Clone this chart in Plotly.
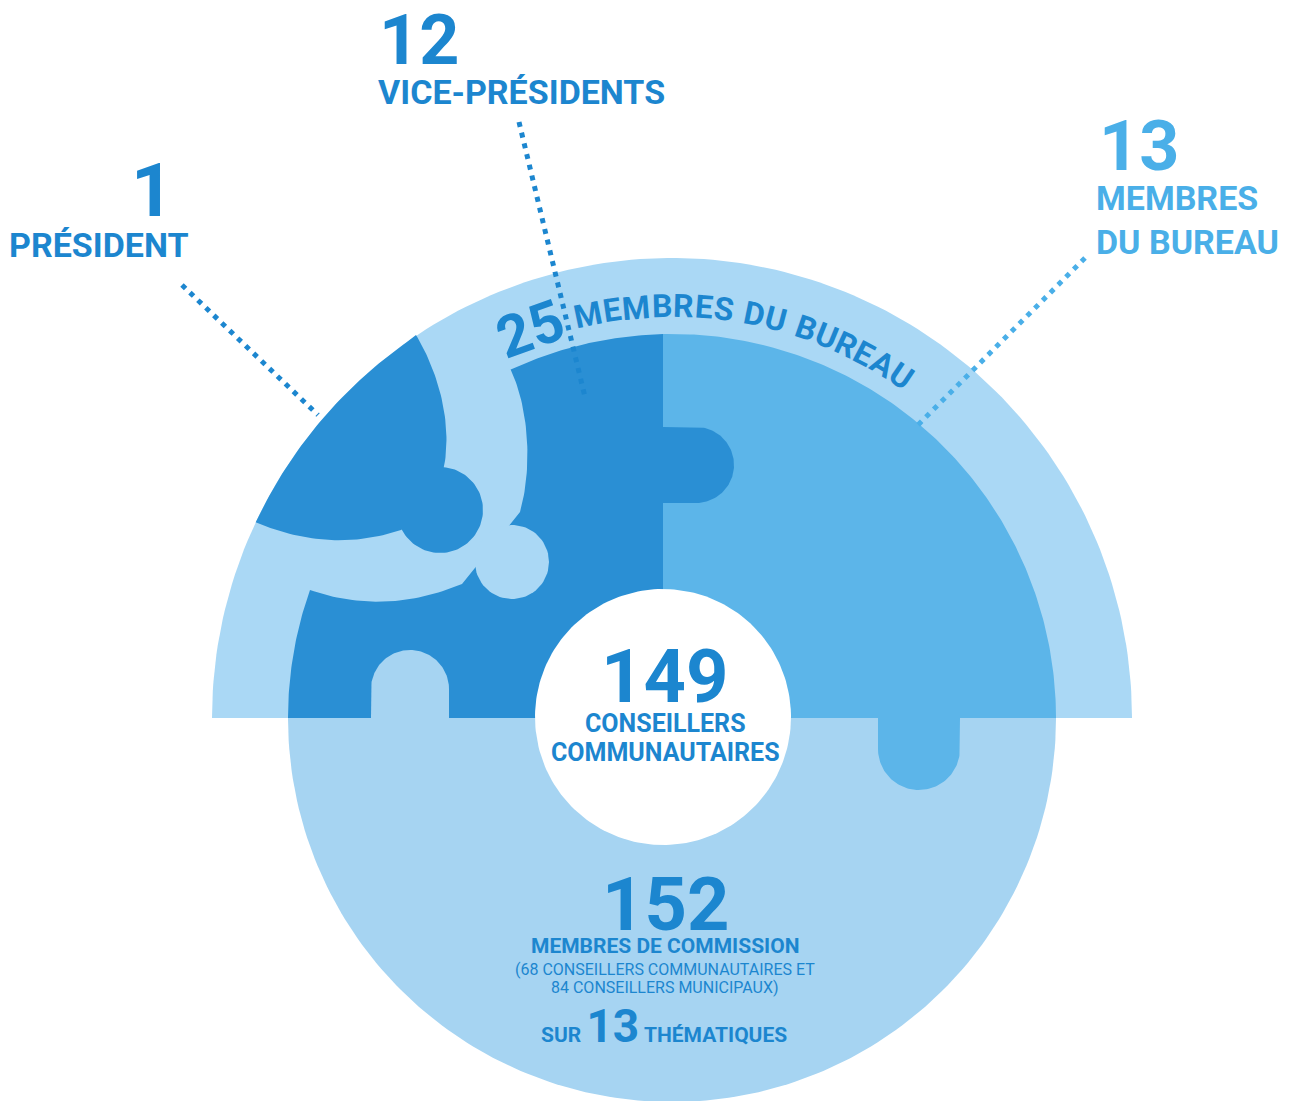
import numpy as np
import plotly.graph_objects as go

# ---------------- data ----------------
role_labels = ["PRÉSIDENT", "VICE-PRÉSIDENTS", "MEMBRES<br>DU BUREAU"]
role_counts = [1, 12, 13]
bureau_total = 25
bureau_label = "MEMBRES DU BUREAU"
conseillers_total = 149
conseillers_label = ["CONSEILLERS", "COMMUNAUTAIRES"]
commission_total = 152
commission_label = "MEMBRES DE COMMISSION"
commission_cc = 68
commission_cm = 84
thematiques = 13

# ---------------- geometry / style ----------------
W, H = 1290, 1101
CX, CY = 672, 718
R_OUT, R_IN = 460, 384

RING = "#aad8f5"
LOWER = "#a6d4f2"
DARK = "#2a8fd4"
MED = "#5cb5e9"
TXT_DARK = "#1c86cf"
TXT_LIGHT = "#4aafe8"
FONT = "Roboto"


def arc(cx, cy, r, a0, a1, n=160):
    t = np.radians(np.linspace(a0, a1, n))
    return list(cx + r * np.cos(t)), list(cy - r * np.sin(t))


def sarc(cx, cy, r, t0, t1, n=80):
    t = np.radians(np.linspace(t0, t1, n))
    return list(cx + r * np.cos(t)), list(cy + r * np.sin(t))


def quad(p0, c, p2, n=40):
    t = np.linspace(0, 1, n)
    x = (1 - t) ** 2 * p0[0] + 2 * (1 - t) * t * c[0] + t ** 2 * p2[0]
    y = (1 - t) ** 2 * p0[1] + 2 * (1 - t) * t * c[1] + t ** 2 * p2[1]
    return list(x), list(y)


def cubic(p0, c1, c2, p3, n=40):
    t = np.linspace(0, 1, n)
    x = ((1 - t) ** 3 * p0[0] + 3 * (1 - t) ** 2 * t * c1[0]
         + 3 * (1 - t) * t ** 2 * c2[0] + t ** 3 * p3[0])
    y = ((1 - t) ** 3 * p0[1] + 3 * (1 - t) ** 2 * t * c1[1]
         + 3 * (1 - t) * t ** 2 * c2[1] + t ** 3 * p3[1])
    return list(x), list(y)


def join(*parts):
    xs, ys = [], []
    for px, py in parts:
        xs += list(px)
        ys += list(py)
    return xs, ys


fig = go.Figure()


def poly(xy, color):
    x, y = xy
    fig.add_trace(go.Scatter(x=x + [x[0]], y=y + [y[0]], mode="lines",
                             fill="toself", fillcolor=color,
                             line=dict(width=0, color=color),
                             hoverinfo="skip", showlegend=False))


# outer light half ring
poly(arc(CX, CY, R_OUT, 180, 0), RING)
# lower disc
poly(arc(CX, CY, R_IN, 180, 360), LOWER)

# medium piece (upper right) with bottom tab
DIV = 663
a_top = np.degrees(np.arccos((DIV - CX) / R_IN))
med = join(([DIV], [CY]),
           arc(CX, CY, R_IN, a_top, 0),
           ([960], [718]),
           sarc(919, 749, 41, 0, 180),
           ([878], [718]))
poly(med, MED)

# vice-president piece (dark)
a_left = 180 - np.degrees(np.arcsin((CY - 590) / R_IN))
a_vp = np.degrees(np.arctan2(CY - 368, 510 - CX))
vp = join(arc(CX, CY, R_IN, 180, a_left, 40),
          quad((310, 590), (385, 616), (462, 584)),
          ([520], [512]),
          cubic((520, 512), (532, 470), (530, 410), (510, 368)),
          arc(CX, CY, R_IN, a_vp, a_top, 60),
          ([DIV], [CY]))
poly(vp, DARK)
# dark tab into medium piece
vtab = join(([DIV, 696], [427, 427]), sarc(696, 465, 38, -90, 90), ([DIV], [503]))
poly(vtab, DARK)
# light knob of the strip
poly(sarc(512, 562, 37, 0, 360), RING)
# light tab from lower disc
ltab = join(([371], [718]), ([371], [689]), sarc(410, 689, 39, 180, 360), ([449], [718]))
poly(ltab, LOWER)

# president piece (dark)
a_p0 = np.degrees(np.arctan2(CY - 522, 255 - CX))
a_p1 = np.degrees(np.arctan2(CY - 335, 416 - CX))
pres = join(arc(CX, CY, R_OUT, a_p0, a_p1, 60),
            cubic((416, 335), (440, 375), (452, 425), (444, 467)),
            sarc(440, 510, 43, -85, 153),
            quad((401, 530), (330, 554), (255, 522)))
poly(pres, DARK)

# white centre
poly(sarc(663, 717, 128, 0, 360, 200), "#ffffff")

# leader lines
leaders = [((182, 285), (318, 415), TXT_DARK),
           ((519, 122), (585, 397), TXT_DARK),
           ((1085, 258), (918, 425), TXT_LIGHT)]
for (x0, y0), (x1, y1), col in leaders:
    fig.add_trace(go.Scatter(x=[x0, x1], y=[y0, y1], mode="lines",
                             line=dict(color=col, width=5, dash="5px,6px"),
                             hoverinfo="skip", showlegend=False))

ann = []


def txt(x, y, s, size, color, bold=True, angle=0, xanchor="center"):
    ann.append(dict(x=x, y=y, xref="x", yref="y", text=s, showarrow=False,
                    xanchor=xanchor, yanchor="middle", textangle=angle,
                    font=dict(family=FONT, size=size, color=color,
                              weight=700 if bold else 400)))


# top labels
txt(152, 190, str(role_counts[0]), 74, TXT_DARK)
txt(99, 245, role_labels[0], 34, TXT_DARK)
txt(419, 40, str(role_counts[1]), 70, TXT_DARK)
txt(521, 92, role_labels[1], 34, TXT_DARK)
txt(1097, 146, str(role_counts[2]), 70, TXT_LIGHT, xanchor="left")
ann.append(dict(x=1094, y=220, xref="x", yref="y", text=role_labels[2],
                showarrow=False, xanchor="left", yanchor="middle", align="left",
                font=dict(family=FONT, size=34, color=TXT_LIGHT, weight=700)))

# curved bureau text
th25 = 110.0
r25 = 414
txt(CX + r25 * np.cos(np.radians(th25)), CY - r25 * np.sin(np.radians(th25)),
    str(bureau_total), 58, TXT_DARK, angle=90 - th25)
widths = {'M': .87, 'E': .56, 'B': .63, 'R': .62, 'S': .60, ' ': .28,
          'D': .65, 'U': .64, 'A': .66}
ws = [widths[c] for c in bureau_label]
tot = sum(ws)
a_s, a_e = 103.9, 54.6
rt = 412
cum = 0
for c, w in zip(bureau_label, ws):
    th = a_s - (cum + w / 2) / tot * (a_s - a_e)
    cum += w
    if c == " ":
        continue
    txt(CX + rt * np.cos(np.radians(th)), CY - rt * np.sin(np.radians(th)),
        c, 32, TXT_DARK, angle=90 - th)

# centre
txt(664, 676, str(conseillers_total), 74, TXT_DARK)
txt(665, 723, conseillers_label[0], 25, TXT_DARK)
txt(665, 752, conseillers_label[1], 25, TXT_DARK)

# commission
txt(665, 904, str(commission_total), 74, TXT_DARK)
txt(665, 946, commission_label, 21, TXT_DARK)
txt(665, 969, f"({commission_cc} CONSEILLERS COMMUNAUTAIRES ET", 16, TXT_DARK, bold=False)
txt(665, 987, f"{commission_cm} CONSEILLERS MUNICIPAUX)", 16, TXT_DARK, bold=False)
txt(664, 1026, f"SUR <span style='font-size:46px'>{thematiques}</span> THÉMATIQUES",
    21, TXT_DARK)

fig.update_layout(
    width=W, height=H, margin=dict(l=0, r=0, t=0, b=0),
    paper_bgcolor="white", plot_bgcolor="white",
    xaxis=dict(range=[0, W], visible=False, fixedrange=True),
    yaxis=dict(range=[H, 0], visible=False, fixedrange=True),
    annotations=ann, showlegend=False,
)

fig.write_html("out.html", config={"displayModeBar": False},
               post_script="document.body.style.margin='0';document.body.style.overflow='hidden';")
